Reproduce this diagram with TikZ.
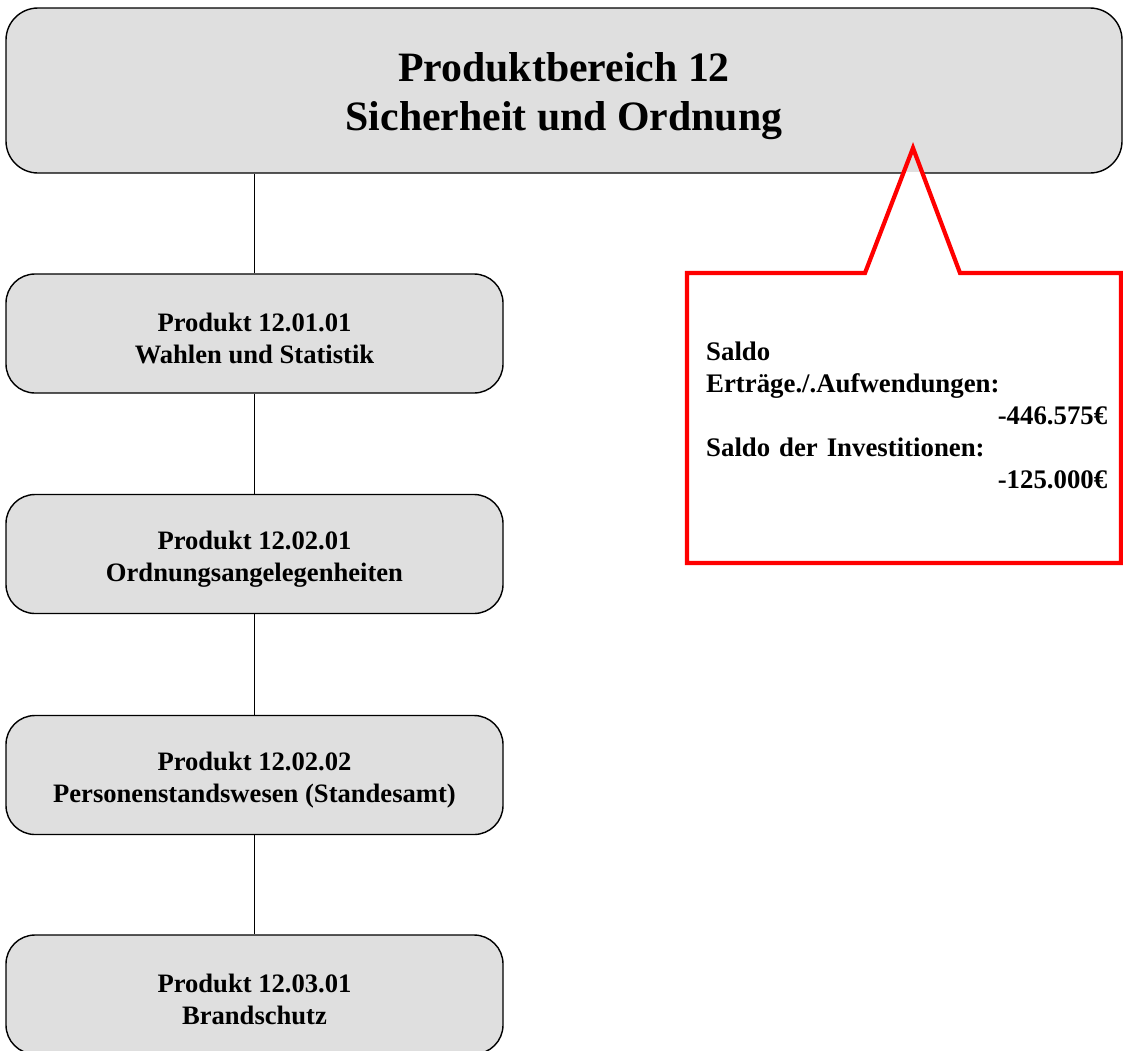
\documentclass[tikz,border=0pt]{standalone}
\usepackage{fontspec}
\setmainfont{Liberation Serif}
\definecolor{boxgray}{HTML}{DFDFDF}
\definecolor{calloutred}{HTML}{FF0000}
\begin{document}
\begin{tikzpicture}[x=1pt,y=-1pt,
  topbox/.style={draw=black, line width=1.4pt, fill=boxgray, rounded corners=32pt,
    inner sep=0pt, minimum width=1116pt, minimum height=165pt},
  prodbox/.style={draw=black, line width=1.4pt, fill=boxgray, rounded corners=29pt,
    inner sep=0pt, minimum width=497pt, minimum height=119pt},
  toptext/.style={inner sep=0pt, align=center, font=\bfseries\fontsize{41.8}{49}\selectfont},
  prodtext/.style={inner sep=0pt, align=center, font=\bfseries\fontsize{26.6}{31.5}\selectfont},
  link/.style={draw=black, line width=1.4pt},
  calloutline/.style={draw=calloutred, line width=4.2pt, line join=miter},
  callouttext/.style={inner sep=0pt, text width=401pt, align=left,
    font=\bfseries\fontsize{26.8}{32.2}\selectfont}]
  \clip (0,0) rectangle (1123,1050);

  % product area and its products
  \node[topbox] (area) at (564,90.5) {};
  \node[prodbox] (p1) at (254.5,333.5) {};
  \node[prodbox] (p2) at (254.5,554) {};
  \node[prodbox] (p3) at (254.5,775) {};
  \node[prodbox] (p4) at (254.5,994.5) {};

  \node[toptext] (areatext) at ([yshift=-6pt]area.center) {Produktbereich 12\\Sicherheit und Ordnung};
  \node[prodtext] (p1text) at ([yshift=-5pt]p1.center) {Produkt 12.01.01\\Wahlen und Statistik};
  \node[prodtext] (p2text) at ([yshift=-5pt]p2.center) {Produkt 12.02.01\\Ordnungsangelegenheiten};
  \node[prodtext] (p3text) at ([yshift=-5pt]p3.center) {Produkt 12.02.02\\Personenstandswesen (Standesamt)};
  \node[prodtext] (p4text) at ([yshift=-5pt]p4.center) {Produkt 12.03.01\\Brandschutz};

  \draw[link] (p1.north) -- (p1.north |- area.south);
  \draw[link] (p1) -- (p2);
  \draw[link] (p2) -- (p3);
  \draw[link] (p3) -- (p4);

  % callout with the balances
  \coordinate (tip) at (913,148);
  \coordinate (baseL) at (865,273);
  \coordinate (baseR) at (960,273);
  \coordinate (cNW) at (687,273);
  \coordinate (cNE) at (1121,273);
  \coordinate (cSE) at (1121,563);
  \coordinate (cSW) at (687,563);
  \begin{scope}
    \clip (0,172) rectangle (1123,1050);
    \fill[white] (cNW) -- (baseL) -- (tip) -- (baseR) -- (cNE) -- (cSE) -- (cSW) -- cycle;
  \end{scope}
  \draw[calloutline] (cNW) -- (baseL) -- (tip) -- (baseR) -- (cNE) -- (cSE) -- (cSW) -- cycle;

  \node[callouttext, anchor=base west] (saldo) at (706,360)
    {Saldo\\
     Erträge./.Aufwendungen:\\
     \makebox[\linewidth][r]{-446.575€}\\
     Saldo der Investitionen:\\
     \makebox[\linewidth][r]{-125.000€}};
\end{tikzpicture}
\end{document}
